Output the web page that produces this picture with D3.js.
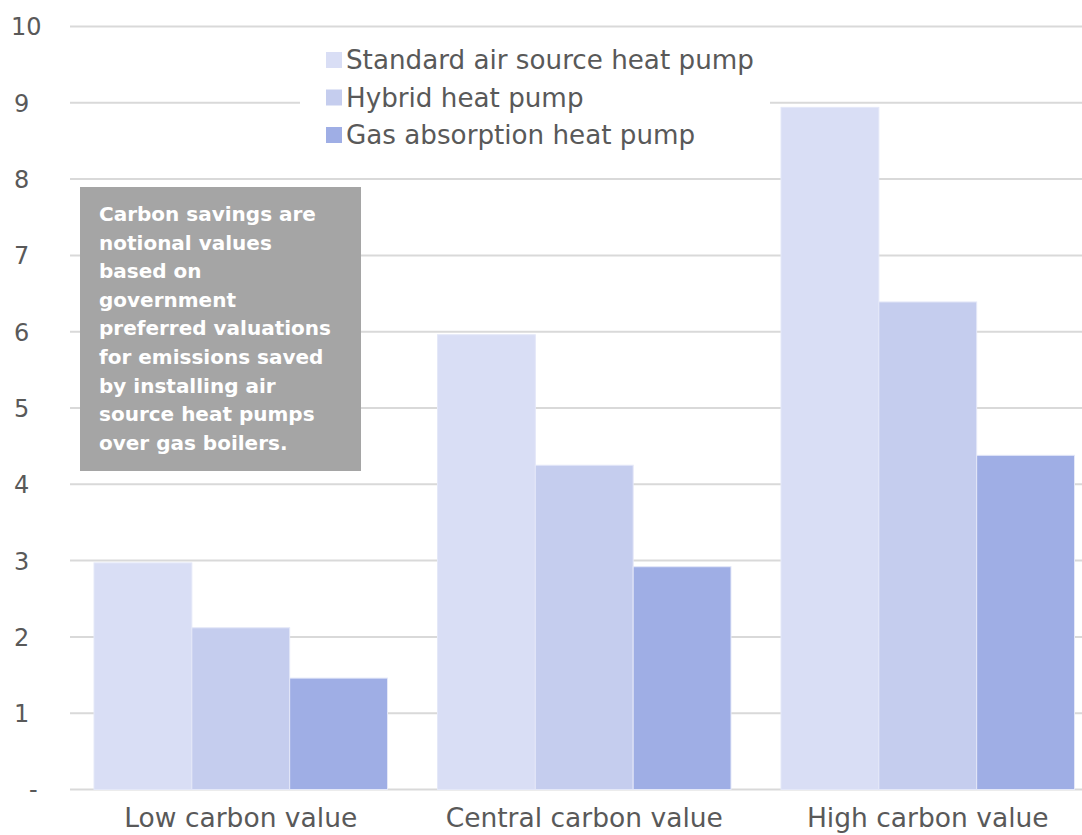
<!DOCTYPE html>
<html><head><meta charset="utf-8">
<script src="https://cdn.jsdelivr.net/npm/d3@7"></script>
<style>body{margin:0;background:#fff;overflow:hidden}svg{display:block}</style>
</head><body><svg id="c" width="1082" height="835"></svg>
<script>
const categories = ["Low carbon value", "Central carbon value", "High carbon value"];
const seriesNames = ["Standard air source heat pump", "Hybrid heat pump", "Gas absorption heat pump"];
const standardVals = [2.97, 5.96, 8.94];
const hybridVals = [2.12, 4.25, 6.39];
const gasVals = [1.46, 2.92, 4.38];
const yTicks = [0,1,2,3,4,5,6,7,8,9,10];
const noteLines = ["Carbon savings are","notional values","based on","government","preferred valuations","for emissions saved","by installing air","source heat pumps","over gas boilers."];
const colors = ["#D9DEF5", "#C5CDEE", "#9FAEE5"];

const series = [standardVals, hybridVals, gasVals];
const svg = d3.select("#c");
const font = "'DejaVu Sans', sans-serif";
const x0 = d3.scaleBand().domain(categories).range([69, 1099.5]).paddingInner(0.1456).paddingOuter(0.0728);
const x1 = d3.scaleBand().domain(d3.range(3)).range([0, x0.bandwidth()]);
const y = d3.scaleLinear().domain([0, 10]).range([789.5, 26.5]);

// gridlines
svg.append("g").selectAll("line").data(yTicks).join("line")
  .attr("x1", 70).attr("x2", 1082).attr("y1", d => y(d)).attr("y2", d => y(d))
  .attr("stroke", "#D9D9D9").attr("stroke-width", 2);

// y axis labels
const yAxis = d3.axisLeft(y).tickValues(yTicks).tickSize(0).tickFormat(d => d === 0 ? "-" : String(d));
const ga = svg.append("g").call(yAxis);
ga.select(".domain").remove();
ga.selectAll("text").attr("font-family", font).attr("font-size", 24).attr("fill", "#595959")
  .attr("text-anchor", "start").attr("dy", "0.35em")
  .attr("x", d => d === 10 ? 11 : (d === 0 ? 29 : 14));

// bars
const groups = svg.append("g").selectAll("g").data(categories).join("g")
  .attr("transform", d => `translate(${x0(d)},0)`);
groups.selectAll("rect").data((c, i) => series.map((s, k) => ({k, v: s[i]}))).join("rect")
  .attr("x", d => x1(d.k)).attr("width", x1.bandwidth())
  .attr("y", d => y(d.v)).attr("height", d => y(0) - y(d.v))
  .attr("fill", d => colors[d.k]).attr("stroke", "#E4E8F8").attr("stroke-width", 1);

// x axis labels
const xAxis = d3.axisBottom(x0).tickSize(0);
const gx = svg.append("g").attr("transform", `translate(0,${y(0)})`).call(xAxis);
gx.select(".domain").remove();
gx.selectAll("text").attr("font-family", font).attr("font-size", 26.5).attr("fill", "#595959").attr("y", 37).attr("dy", 0);

// legend
svg.append("rect").attr("x", 300).attr("y", 36).attr("width", 470).attr("height", 118).attr("fill", "#fff");
const lg = svg.append("g").selectAll("g").data(seriesNames).join("g")
  .attr("transform", (d, i) => `translate(326,${60 + i * 37.5})`);
lg.append("rect").attr("x", 0).attr("y", -8).attr("width", 16).attr("height", 16).attr("fill", (d, i) => colors[i]);
lg.append("text").attr("x", 20).attr("dy", "0.35em").attr("font-family", font).attr("font-size", 26.2)
  .attr("fill", "#595959").text(d => d);

// note box
svg.append("rect").attr("x", 80).attr("y", 187).attr("width", 281).attr("height", 284).attr("fill", "#A5A5A5");
svg.append("g").selectAll("text").data(noteLines).join("text")
  .attr("x", 99).attr("y", (d, i) => 221 + i * 28.6)
  .attr("font-family", font).attr("font-weight", "bold").attr("font-size", 20).attr("fill", "#fff").text(d => d);
</script></body></html>
